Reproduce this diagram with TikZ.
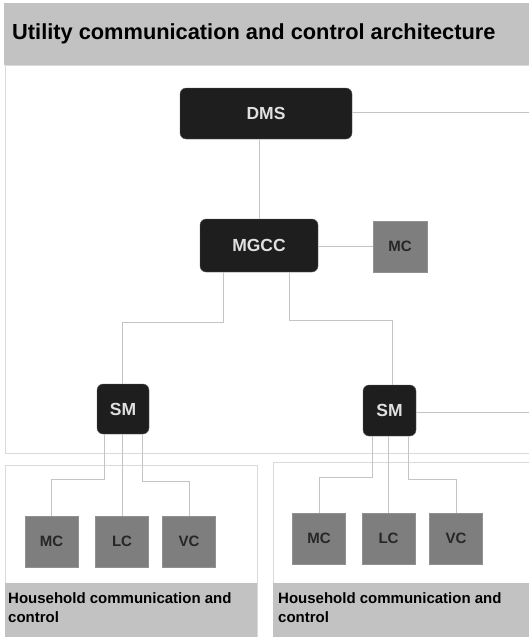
\documentclass[tikz,border=0pt]{standalone}
\usepackage{fontspec}
\setmainfont{Liberation Sans}
\definecolor{band}{HTML}{C2C2C2}
\definecolor{frame}{HTML}{DADADA}
\definecolor{wire}{HTML}{C4C4C4}
\definecolor{ctrl}{HTML}{1E1E1E}
\definecolor{unit}{HTML}{7E7E7E}
\tikzset{
  x=1pt, y=-1pt,
  ctrlbox/.style={fill=ctrl, draw=ctrl!70!white, rounded corners=6pt, text=white!88!black,
    font=\bfseries\fontsize{17.5}{17.5}\selectfont, inner sep=0pt},
  unitbox/.style={fill=unit, draw=unit!85!white, text=black!85, minimum width=53pt, minimum height=51pt,
    font=\bfseries\fontsize{15}{15}\selectfont, inner sep=0pt},
  wire/.style={draw=wire, line width=0.9pt},
  framebox/.style={draw=frame, line width=1pt},
  bandtext/.style={anchor=north west, align=left, inner sep=0pt, text=black,
    font=\bfseries\fontsize{15}{19}\selectfont}
}
\begin{document}
\begin{tikzpicture}
\useasboundingbox (0,0) rectangle (529,637);
\fill[white] (0,0) rectangle (529,637);

% utility area
\fill[band] (4,3) rectangle (529,65);
\node[anchor=west, inner sep=0pt, font=\bfseries\fontsize{21.8}{22}\selectfont] (title) at (12,34) {Utility communication and control architecture};
\draw[framebox] (529,65) -- (5,65) -- (5,453) -- (529,453);

% household areas
\draw[framebox] (5,637) -- (5,465) -- (257,465) -- (257,637);
\fill[band] (5,583) rectangle (257,637);
\node[bandtext] (hh1) at (8,592) {Household communication and\\control};
\draw[framebox] (273,637) -- (273,462) -- (529,462);
\fill[band] (273,583) rectangle (529,637);
\node[bandtext] (hh2) at (278,592) {Household communication and\\control};

% controllers
\node[ctrlbox, minimum width=172pt, minimum height=51pt] (dms) at (266,113.5) {DMS};
\node[ctrlbox, minimum width=118pt, minimum height=53pt] (mgcc) at (259,245.5) {MGCC};
\node[unitbox, minimum width=54pt] (mc0) at (400,246.5) {MC};
\node[ctrlbox, minimum width=52pt, minimum height=50pt] (sm1) at (123,409) {SM};
\node[ctrlbox, minimum width=53pt, minimum height=51pt] (sm2) at (389.5,410.5) {SM};

% household units
\node[unitbox] (mc1) at (51.5,541.5) {MC};
\node[unitbox] (lc1) at (122,541.5) {LC};
\node[unitbox] (vc1) at (189,541.5) {VC};
\node[unitbox] (mc2) at (319,538.5) {MC};
\node[unitbox] (lc2) at (388.5,538.5) {LC};
\node[unitbox] (vc2) at (456,538.5) {VC};

% connections
\coordinate (dmsout) at (529,112);
\coordinate (smout) at (529,412);
\draw[wire] (dms.east |- 0,112) -- (dmsout);
\draw[wire] (dms.south -| mgcc.north) -- (mgcc.north);
\draw[wire] (mgcc.east |- mc0.west) -- (mc0.west);
\draw[wire] (mgcc.south -| 223,0) -- (223,322) -- (122,322) -- (sm1.north -| 122,0);
\draw[wire] (mgcc.south -| 289,0) -- (289,320) -- (392,320) -- (sm2.north -| 392,0);
\draw[wire] (sm2.east |- smout) -- (smout);
\draw[wire] (sm1.south -| 104,0) -- (104,479) -- (mc1.north |- 0,479) -- (mc1.north);
\draw[wire] (sm1.south -| lc1.north) -- (lc1.north);
\draw[wire] (sm1.south -| 142,0) -- (142,481) -- (vc1.north |- 0,481) -- (vc1.north);
\draw[wire] (sm2.south -| 372,0) -- (372,477) -- (mc2.north |- 0,477) -- (mc2.north);
\draw[wire] (sm2.south -| lc2.north) -- (lc2.north);
\draw[wire] (sm2.south -| 408,0) -- (408,479) -- (vc2.north |- 0,479) -- (vc2.north);
\end{tikzpicture}
\end{document}
